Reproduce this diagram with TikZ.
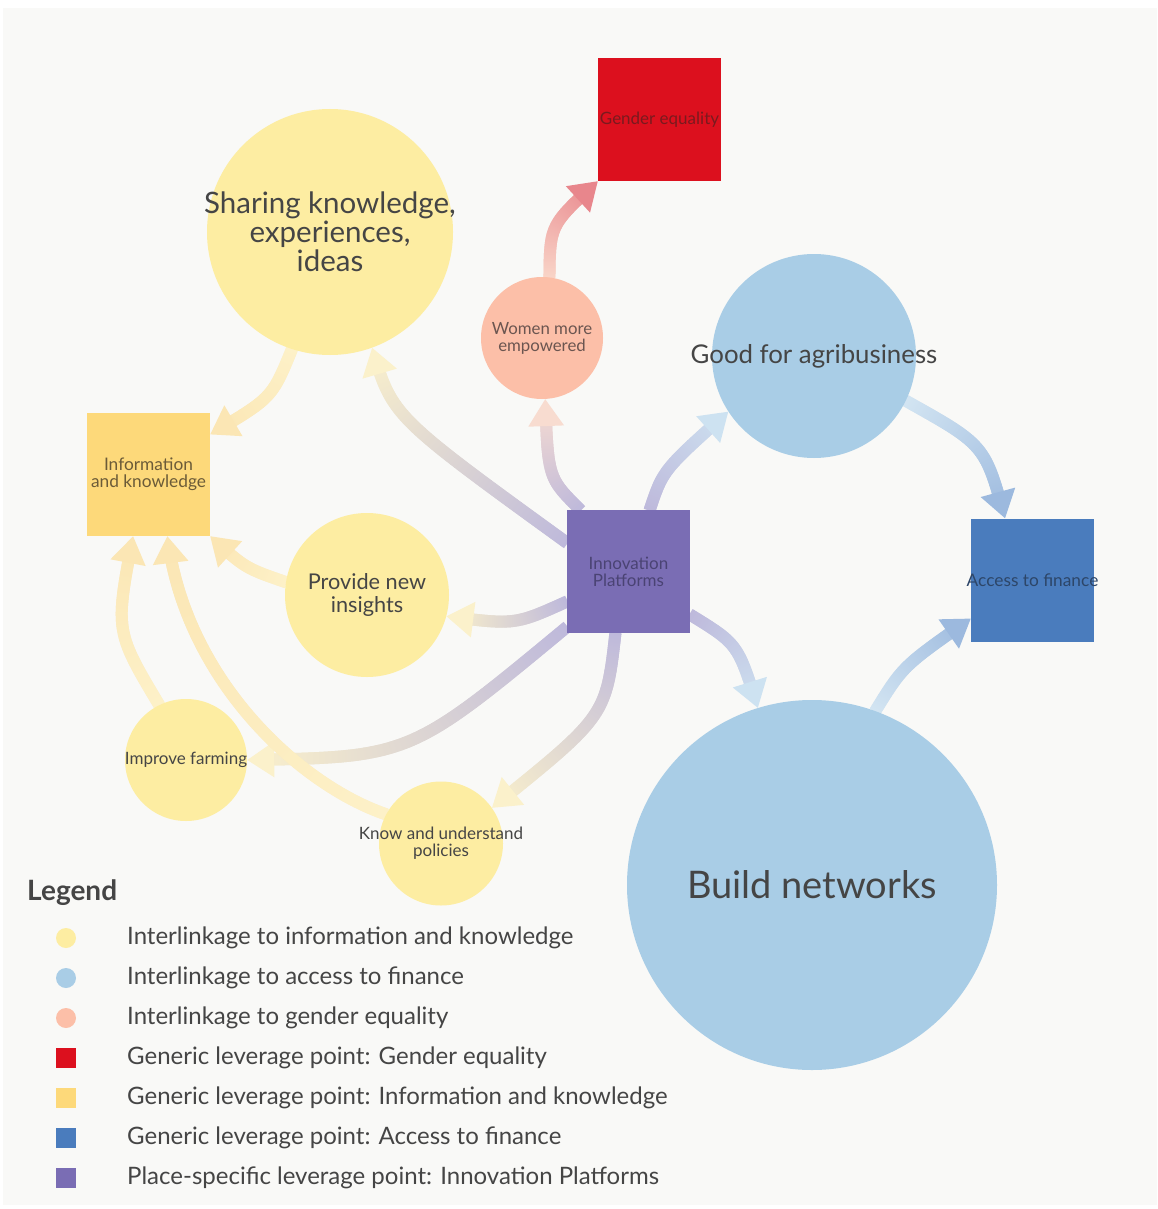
\documentclass[tikz,border=0pt]{standalone}
\usepackage{fontspec}
\setmainfont{Lato}
\usetikzlibrary{decorations.markings,arrows.meta}
\pgfdeclarelayer{bgl}
\pgfdeclarelayer{arl}
\pgfsetlayers{bgl,arl,main}
\definecolor{bgc}{HTML}{F9F9F7}
\definecolor{cyel}{HTML}{FDEDA2}
\definecolor{cinfo}{HTML}{FDD97A}
\definecolor{cpur}{HTML}{7A6DB4}
\definecolor{cred}{HTML}{DC101E}
\definecolor{cblu}{HTML}{4A7CBD}
\definecolor{clbl}{HTML}{A9CDE6}
\definecolor{csal}{HTML}{FCBFA8}
\definecolor{ctxt}{HTML}{454545}
\definecolor{tgen}{HTML}{7A1A1E}
\definecolor{twom}{HTML}{6B5550}
\definecolor{tinf}{HTML}{6B5B38}
\definecolor{tipc}{HTML}{4A4373}
\definecolor{tacc}{HTML}{2D4668}
\definecolor{ayA}{HTML}{FDF1C8}
\definecolor{ayB}{HTML}{FBE6B4}
\definecolor{apu}{HTML}{BEB9DB}
\definecolor{ayE}{HTML}{FBF1CB}
\definecolor{asE}{HTML}{F8DCD0}
\definecolor{asA}{HTML}{F9D5C8}
\definecolor{arE}{HTML}{E8868C}
\definecolor{abA}{HTML}{D3E5F2}
\definecolor{abE}{HTML}{CDE2F1}
\definecolor{abB}{HTML}{9CB9DE}
\begin{document}
\begin{tikzpicture}[x=1pt,y=-1pt,
  sq/.style={rectangle, minimum width=123pt, minimum height=123pt, inner sep=0pt, draw=none},
  circ/.style={circle, inner sep=0pt, draw=none, minimum size=#1},
  txt/.style={align=center, text=ctxt, inner sep=0pt},
  legt/.style={anchor=west, text=ctxt, inner sep=0pt, font=\fontsize{24}{26}\selectfont},
  garrow/.style 2 args={
    decoration={markings,
      mark=between positions 0 and 1 step 1pt with {
        \pgfmathsetmacro\gd{\pgfkeysvalueof{/pgf/decoration/mark info/distance from start}}
        \pgfmathsetmacro\gl{\pgfdecoratedpathlength}
        \pgfmathtruncatemacro\gok{(\gd < \gl - 22) ? 1 : 0}
        \ifnum\gok=1
          \pgfmathsetmacro\gp{100*(1-\gd/\gl)}
          \fill[color=#1!\gp!#2] (-0.9pt,-6pt) rectangle (0.9pt,6pt);
        \fi
      }
    },
    postaction={decorate},
    postaction={draw=#2, draw opacity=0, line width=0.1pt, -{Triangle[width=36pt,length=27pt,fill=#2]}}
  }
]
\useasboundingbox (0,0) rectangle (1157,1209);
\begin{pgfonlayer}{bgl}
\fill[white] (0,0) rectangle (1157,1209);
\fill[bgc] (3,8) rectangle (1157,1205);
\end{pgfonlayer}

% shapes
\node[sq, fill=cred] (gender) at (659.5,119.5) {};
\node[circ=246pt, fill=cyel] (sharing) at (330,232) {};
\node[circ=122pt, fill=csal] (women) at (542,338) {};
\node[circ=204pt, fill=clbl] (good) at (814,356) {};
\node[sq, fill=cinfo] (info) at (148.5,474.5) {};
\node[sq, fill=cpur] (ip) at (628.5,571.5) {};
\node[sq, fill=cblu] (access) at (1032.5,580) {};
\node[circ=164pt, fill=cyel] (provide) at (367,595) {};
\node[circ=122pt, fill=cyel] (improve) at (186,760) {};
\node[circ=124pt, fill=cyel] (know) at (441,843.5) {};
\node[circ=370pt, fill=clbl] (build) at (812,885) {};

% texts
\node[txt, text=tgen, font=\fontsize{17}{18}\selectfont] (gendert) at (gender) {Gender equality};
\node[txt, font=\fontsize{29.5}{29}\selectfont] (sharingt) at (sharing) {Sharing knowledge,\\experiences,\\ideas};
\node[txt, text=twom, font=\fontsize{16.8}{17}\selectfont] (woment) at (women) {Women more\\empowered};
\node[txt, font=\fontsize{25.8}{27}\selectfont] (goodt) at (good) {Good for agribusiness};
\node[txt, text=tinf, font=\fontsize{17.3}{17}\selectfont] (infot) at (info) {Information\\and knowledge};
\node[txt, text=tipc, font=\fontsize{17}{17}\selectfont] (ipt) at (ip) {Innovation\\Platforms};
\node[txt, text=tacc, font=\fontsize{17.3}{18}\selectfont] (accesst) at (access) {Access to finance};
\node[txt, font=\fontsize{21.7}{23}\selectfont] (providet) at (provide) {Provide new\\insights};
\node[txt, font=\fontsize{17}{18}\selectfont] (improvet) at (improve) {Improve farming};
\node[txt, font=\fontsize{17}{17}\selectfont] (knowt) at (know) {Know and understand\\policies};
\node[txt, font=\fontsize{38}{40}\selectfont] (buildt) at (build) {Build networks};

% arrows
\begin{pgfonlayer}{arl}
\path[garrow={ayA}{ayB}] (sharing.252) .. controls (272,398) .. (info.33);
\path[garrow={apu}{ayE}] (ip.155) .. controls (392,416) .. (sharing.-70);
\path[garrow={apu}{asE}] (ip.128) .. controls (548,478) .. (women.-87);
\path[garrow={asA}{arE}] (women.83) .. controls (550,225) .. (gender.225);
\path[garrow={apu}{abE}] (ip.71) .. controls (663,470) .. (good.213);
\path[garrow={abA}{abB}] (good.-26) .. controls (985,445) .. (access.114);
\path[garrow={abA}{abB}] (build.70) .. controls (903,666) .. (access.212);
\path[garrow={apu}{abE}] (ip.-35) .. controls (738,644) .. (build.107);
\path[garrow={apu}{ayE}] (ip.206) .. controls (515,625) .. (provide.-15);
\path[garrow={ayA}{ayB}] (provide.171) .. controls (245,568) .. (info.south east);
\path[garrow={apu}{ayE}] (ip.222) .. controls (410,757) .. (improve.east);
\path[garrow={apu}{ayE}] (ip.258) .. controls (606,716) .. (know.35);
\path[garrow={ayA}{ayB}] (improve.116) .. controls (115,631) .. (info.256);
\path[garrow={ayA}{ayB}] (know.152) .. controls (300,785) and (185,680) .. (info.-73);
\end{pgfonlayer}

% legend
\node[anchor=west, text=ctxt, inner sep=0pt, font=\fontsize{28}{30}\selectfont\bfseries] (legtitle) at (27,893) {Legend};
\node[circ=20pt, fill=cyel] (m1) at (66,938) {};
\node[circ=20pt, fill=clbl] (m2) at (66,978) {};
\node[circ=20pt, fill=csal] (m3) at (66,1018) {};
\node[rectangle, minimum size=20pt, inner sep=0pt, fill=cred] (m4) at (66,1058) {};
\node[rectangle, minimum size=20pt, inner sep=0pt, fill=cinfo] (m5) at (66,1098) {};
\node[rectangle, minimum size=20pt, inner sep=0pt, fill=cblu] (m6) at (66,1138) {};
\node[rectangle, minimum size=20pt, inner sep=0pt, fill=cpur] (m7) at (66,1178) {};
\node[legt] (l1) at (127,938) {Interlinkage to information and knowledge};
\node[legt] (l2) at (127,978) {Interlinkage to access to finance};
\node[legt] (l3) at (127,1018) {Interlinkage to gender equality};
\node[legt] (l4) at (127,1058) {Generic leverage point: Gender equality};
\node[legt] (l5) at (127,1098) {Generic leverage point: Information and knowledge};
\node[legt] (l6) at (127,1138) {Generic leverage point: Access to finance};
\node[legt] (l7) at (127,1178) {Place-specific leverage point: Innovation Platforms};
\end{tikzpicture}
\end{document}
